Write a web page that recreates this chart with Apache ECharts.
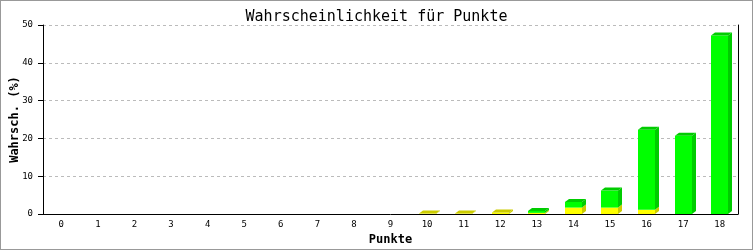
<!DOCTYPE html>
<html><head><meta charset="utf-8">
<script src="https://cdn.jsdelivr.net/npm/echarts@6/dist/echarts.min.js"></script>
<style>
html,body{margin:0;padding:0;background:#fff;}
#c{width:753px;height:250px;}
#b{position:absolute;left:0;top:0;width:753px;height:250px;box-sizing:border-box;border:1px solid #999;pointer-events:none;}
</style></head><body>
<div id="c"></div><div id="b"></div>
<script>
var categories = ['0','1','2','3','4','5','6','7','8','9','10','11','12','13','14','15','16','17','18'];
var yellowValues = [0,0,0,0,0,0,0,0,0,0,0.1,0.1,0.4,0.3,1.7,1.7,1.1,0,0];
var greenValues  = [0,0,0,0,0,0,0,0,0,0,0,0,0,0.5,1.5,4.5,21.2,20.7,47.2];
var yTicks = [0,10,20,30,40,50];

var data = categories.map(function(c,i){ return [i, yellowValues[i], greenValues[i]]; });
var chart = echarts.init(document.getElementById('c'));
var mono = 'DejaVu Sans Mono';
var DX = 4, DY = 3, W = 17;

function renderItem(params, api){
  var i = api.value(0), yv = api.value(1), gv = api.value(2);
  var total = yv + gv;
  if (total <= 0) return {type:'group', children:[]};
  var base = api.coord([i, 0]);
  var cx = base[0], y0 = base[1];
  var x0 = Math.round(cx - W/2), x1 = x0 + W;
  var children = [];
  var segs = [[0, yv, '#ffff00', '#cccc00'], [yv, total, '#00ff00', '#00cc00']];
  var topColor = null, topY = y0;
  segs.forEach(function(s){
    if (s[1] - s[0] <= 0) return;
    var yb = api.coord([i, s[0]])[1], yt = api.coord([i, s[1]])[1];
    children.push({type:'rect', shape:{x:x0, y:yt, width:W, height:yb-yt}, style:{fill:s[2]}});
    children.push({type:'polygon', shape:{points:[[x1,yb],[x1+DX,yb-DY],[x1+DX,yt-DY],[x1,yt]]}, style:{fill:s[3]}});
    topColor = s[3]; topY = yt;
  });
  if (topColor) {
    children.push({type:'polygon', shape:{points:[[x0,topY],[x0+DX,topY-DY],[x1+DX,topY-DY],[x1,topY]]}, style:{fill:topColor}});
  }
  return {type:'group', children:children};
}

chart.setOption({
  animation:false,
  backgroundColor:'#fff',
  title:{text:'Wahrscheinlichkeit für Punkte', left:'center', top:5,
    textStyle:{fontFamily:mono, fontSize:15, fontWeight:'normal', color:'#000'}},
  grid:{left:43, right:15, top:25, bottom:36, containLabel:false, outerBoundsMode:'none'},
  xAxis:{type:'category', data:categories, name:'Punkte', nameLocation:'middle', nameGap:20, nameMoveOverlap:false,
    nameTextStyle:{fontFamily:mono, fontSize:12, fontWeight:'bold', color:'#000'},
    axisLine:{lineStyle:{color:'#000', width:1}}, axisTick:{show:false},
    axisLabel:{fontFamily:mono, fontSize:9, color:'#000', margin:6}},
  yAxis:[{type:'value', min:0, max:50, interval:10, name:'Wahrsch. (%)', nameLocation:'middle', nameGap:22, nameMoveOverlap:false,
    nameTextStyle:{fontFamily:mono, fontSize:12, fontWeight:'bold', color:'#000'},
    axisLine:{show:true, lineStyle:{color:'#000'}}, axisTick:{show:true, length:5, lineStyle:{color:'#000'}},
    axisLabel:{fontFamily:mono, fontSize:9, color:'#000', margin:10, customValues:yTicks},
    splitLine:{show:true, lineStyle:{color:'#bbb', type:[3,3]}}},
    {type:'value', min:0, max:50, interval:10, position:'right',
    axisLine:{show:true, lineStyle:{color:'#000'}}, axisTick:{show:false}, axisLabel:{show:false}, splitLine:{show:false}}],
  series:[{type:'custom', renderItem:renderItem, data:data, encode:{x:0, y:[1,2]}, clip:false}]
});
</script></body></html>
